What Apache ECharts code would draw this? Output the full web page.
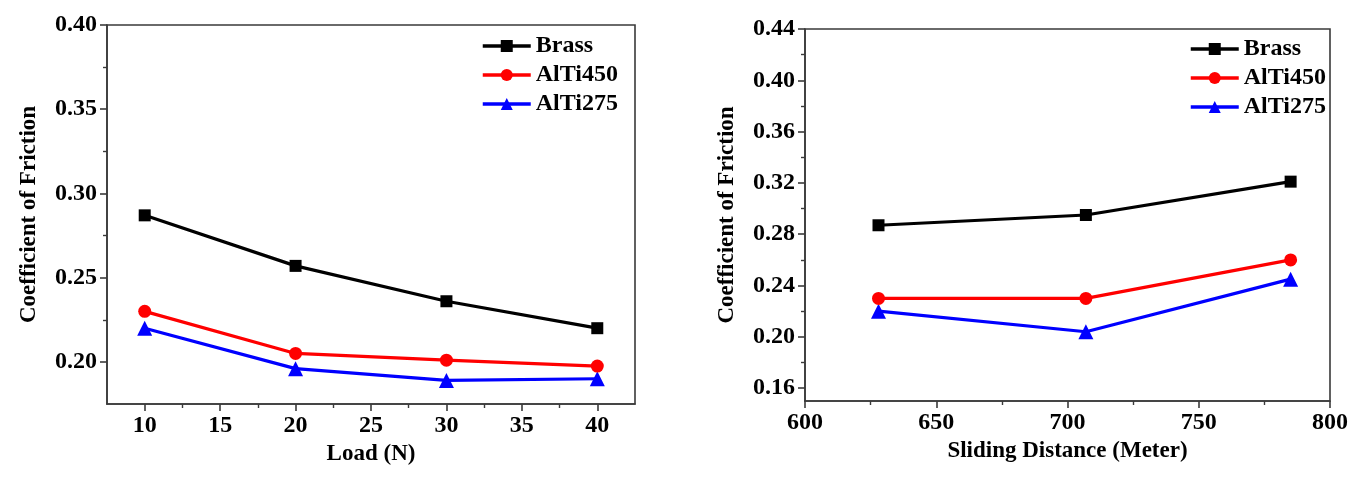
<!DOCTYPE html>
<html>
<head>
<meta charset="utf-8">
<script src="https://cdn.jsdelivr.net/npm/echarts@6/dist/echarts.min.js"></script>
<style>
  html, body { margin: 0; padding: 0; background: #fff; }
  #main { width: 1361px; height: 478px; }
</style>
</head>
<body>
<div id="main"></div>
<script>
// left panel: load
const loadN = [10, 20, 30, 40]
const brassLoad = [0.287, 0.257, 0.236, 0.220]
const alti450Load = [0.230, 0.205, 0.201, 0.1975]
const alti275Load = [0.220, 0.196, 0.189, 0.190]
const loadTicks = [10, 15, 20, 25, 30, 35, 40]
const loadMinorTicks = [12.5, 17.5, 22.5, 27.5, 32.5, 37.5]
const cofTicksL = [0.20, 0.25, 0.30, 0.35, 0.40]
const cofMinorTicksL = [0.225, 0.275, 0.325, 0.375]

// right panel: sliding distance
const distance = [628, 707, 785]
const brassDist = [0.287, 0.295, 0.321]
const alti450Dist = [0.230, 0.230, 0.260]
const alti275Dist = [0.220, 0.204, 0.245]
const distTicks = [600, 650, 700, 750, 800]
const distMinorTicks = [625, 675, 725, 775]
const cofTicksR = [0.16, 0.20, 0.24, 0.28, 0.32, 0.36, 0.40, 0.44]
const cofMinorTicksR = [0.18, 0.22, 0.26, 0.30, 0.34, 0.38, 0.42]

const names = ['Brass', 'AlTi450', 'AlTi275']
const colors = ['#000000', '#ff0000', '#0000ff']
const symbols = ['rect', 'circle', 'triangle']
const symbolSizes = [12, 13, 15]

const font = 'Liberation Serif'
const axisColor = '#3a3a3a'
const txt = {fontFamily: font, fontWeight: 'bold', color: '#000', fontSize: 24}

function majorAxis(gridIndex, min, max, ticks, fmt, extra) {
    return Object.assign({
        type: 'value', gridIndex, min, max,
        axisLine: {show: true, onZero: false, lineStyle: {color: axisColor, width: 1.6}},
        axisTick: {show: true, inside: false, length: 7, customValues: ticks, lineStyle: {color: axisColor, width: 1.6}},
        axisLabel: Object.assign({customValues: ticks, formatter: fmt, margin: 10}, txt),
        splitLine: {show: false},
        nameTextStyle: Object.assign({}, txt, {fontSize: 23})
    }, extra)
}
function minorAxis(gridIndex, min, max, ticks, position) {
    return {
        type: 'value', gridIndex, min, max, position,
        axisLine: {show: false, onZero: false},
        axisTick: {show: true, inside: false, length: 4, customValues: ticks, lineStyle: {color: axisColor, width: 1.4}},
        axisLabel: {show: false},
        splitLine: {show: false}
    }
}

function makeSeries(xs, ys, i, xIdx, yIdx) {
    return {
        name: names[i], type: 'line', xAxisIndex: xIdx, yAxisIndex: yIdx,
        data: xs.map((x, k) => [x, ys[k]]),
        symbol: symbols[i], symbolSize: symbolSizes[i],
        itemStyle: {color: colors[i]},
        lineStyle: {color: colors[i], width: 3.2},
        z: 3 - i
    }
}

function makeLegend(left, top) {
    return {
        data: names.slice(), orient: 'vertical', left, top,
        itemWidth: 48, itemHeight: 15, itemGap: 5, padding: 0,
        lineStyle: {width: 3.5},
        textStyle: Object.assign({}, txt, {fontSize: 24})
    }
}

const chart = echarts.init(document.getElementById('main'))
const option = {
    backgroundColor: '#fff',
    animation: false,
    grid: [
        {left: 107, top: 25, width: 528, height: 379, show: true, borderColor: axisColor, borderWidth: 1.6},
        {left: 805, top: 29, width: 525, height: 372, show: true, borderColor: axisColor, borderWidth: 1.6}
    ],
    legend: [makeLegend(481, 34), makeLegend(1189, 37)],
    xAxis: [
        majorAxis(0, 7.5, 42.5, loadTicks, v => String(v),
            {position: 'bottom', name: 'Load (N)', nameLocation: 'middle', nameGap: 38}),
        minorAxis(0, 7.5, 42.5, loadMinorTicks, 'bottom'),
        majorAxis(1, 600, 800, distTicks, v => String(v),
            {position: 'bottom', name: 'Sliding Distance (Meter)', nameLocation: 'middle', nameGap: 38}),
        minorAxis(1, 600, 800, distMinorTicks, 'bottom')
    ],
    yAxis: [
        majorAxis(0, 0.175, 0.40, cofTicksL, v => v.toFixed(2),
            {position: 'left', name: 'Coefficient of Friction', nameLocation: 'middle', nameGap: 66}),
        minorAxis(0, 0.175, 0.40, cofMinorTicksL, 'left'),
        majorAxis(1, 0.15, 0.44, cofTicksR, v => v.toFixed(2),
            {position: 'left', name: 'Coefficient of Friction', nameLocation: 'middle', nameGap: 66}),
        minorAxis(1, 0.15, 0.44, cofMinorTicksR, 'left')
    ],
    series: [
        makeSeries(loadN, brassLoad, 0, 0, 0),
        makeSeries(loadN, alti450Load, 1, 0, 0),
        makeSeries(loadN, alti275Load, 2, 0, 0),
        makeSeries(distance, brassDist, 0, 2, 2),
        makeSeries(distance, alti450Dist, 1, 2, 2),
        makeSeries(distance, alti275Dist, 2, 2, 2)
    ]
}
chart.setOption(option)
</script>
</body>
</html>
